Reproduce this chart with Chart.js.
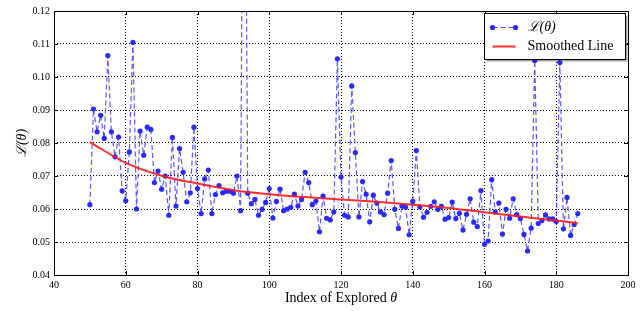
<!DOCTYPE html>
<html>
<head>
<meta charset="utf-8">
<script src="https://cdn.jsdelivr.net/npm/chart.js@4/dist/chart.umd.min.js"></script>
<style>
  html, body { margin: 0; padding: 0; background: #fff; }
  #wrap { width: 642px; height: 311px; }
</style>
</head>
<body>
<div id="wrap"><canvas id="chart" width="642" height="311"></canvas></div>
<script>
// explored index of the first loss sample, one sample per index after it
const firstIndex = 50;

const lossValues = [
  0.0613, 0.0903, 0.0834, 0.0884, 0.0814, 0.1065, 0.0834, 0.0758, 0.0818, 0.0655,
  0.0625, 0.0773, 0.1105, 0.0600, 0.0836, 0.0763, 0.0848, 0.0841, 0.0680, 0.0715,
  0.0660, 0.0700, 0.0581, 0.0817, 0.0609, 0.0783, 0.0711, 0.0622, 0.0649, 0.0848,
  0.0662, 0.0586, 0.0691, 0.0718, 0.0586, 0.0644, 0.0671, 0.0649, 0.0654, 0.0654,
  0.0648, 0.0700, 0.0595, 0.2300, 0.0648, 0.0616, 0.0629, 0.0581, 0.0599, 0.0620,
  0.0662, 0.0573, 0.0623, 0.0660, 0.0595, 0.0600, 0.0605, 0.0645, 0.0609, 0.0629,
  0.0711, 0.0680, 0.0613, 0.0624, 0.0531, 0.0639, 0.0572, 0.0567, 0.0591, 0.1055,
  0.0697, 0.0581, 0.0576, 0.0973, 0.0771, 0.0576, 0.0683, 0.0645, 0.0561, 0.0642,
  0.0618, 0.0591, 0.0583, 0.0648, 0.0747, 0.0599, 0.0541, 0.0609, 0.0605, 0.0522,
  0.0623, 0.0777, 0.0606, 0.0575, 0.0590, 0.0608, 0.0622, 0.0599, 0.0608, 0.0569,
  0.0574, 0.0621, 0.0571, 0.0587, 0.0536, 0.0584, 0.0631, 0.0560, 0.0547, 0.0656,
  0.0493, 0.0503, 0.0689, 0.0591, 0.0618, 0.0524, 0.0599, 0.0572, 0.0631, 0.0583,
  0.0571, 0.0523, 0.0473, 0.0542, 0.1050, 0.0556, 0.0565, 0.0582, 0.0570, 0.0570,
  0.0562, 0.1044, 0.0540, 0.0635, 0.0520, 0.0553, 0.0586
];

const smoothIndex = [50, 60, 70, 80, 90, 100, 110, 120, 130, 140, 150, 160, 170, 180, 186];
const smoothValues = [0.0803, 0.0740, 0.0701, 0.0677, 0.0657, 0.0645, 0.0636, 0.0629, 0.0622, 0.0613, 0.0603, 0.0590, 0.0577, 0.0565, 0.0557];

const xTickValues = [40, 60, 80, 100, 120, 140, 160, 180, 200];
const yTickValues = [0.04, 0.05, 0.06, 0.07, 0.08, 0.09, 0.10, 0.11, 0.12];

const legendLabels = ['\u2112(\u03b8)', 'Smoothed Line'];
const xTitle = ['Index of Explored ', '\u03b8'];

const serif = '"Liberation Serif", "DejaVu Serif", serif';

const lossPoints = lossValues.map((v, i) => ({ x: firstIndex + i, y: v }));
const smoothPoints = smoothIndex.map((x, i) => ({ x, y: smoothValues[i] }));

// frame, inward ticks, x title with italic theta and the boxed legend
const framePlugin = {
  id: 'frame',
  afterDraw(chart) {
    const { ctx, chartArea: a, scales } = chart;
    ctx.save();
    ctx.strokeStyle = '#000';
    ctx.lineWidth = 1;
    ctx.beginPath();
    xTickValues.forEach((v) => {
      const px = Math.round(scales.x.getPixelForValue(v)) + 0.5;
      ctx.moveTo(px, a.bottom); ctx.lineTo(px, a.bottom - 4);
      ctx.moveTo(px, a.top); ctx.lineTo(px, a.top + 4);
    });
    yTickValues.forEach((v) => {
      const py = Math.round(scales.y.getPixelForValue(v)) + 0.5;
      ctx.moveTo(a.left, py); ctx.lineTo(a.left + 4, py);
      ctx.moveTo(a.right, py); ctx.lineTo(a.right - 4, py);
    });
    ctx.stroke();
    ctx.strokeRect(Math.round(a.left) + 0.5, Math.round(a.top) + 0.5,
      Math.round(a.right - a.left), Math.round(a.bottom - a.top));

    // x axis title
    ctx.fillStyle = '#000';
    ctx.textBaseline = 'middle';
    ctx.textAlign = 'left';
    ctx.font = '14px ' + serif;
    const w0 = ctx.measureText(xTitle[0]).width;
    ctx.font = 'italic 14px ' + serif;
    const w1 = ctx.measureText(xTitle[1]).width;
    const tx = (a.left + a.right) / 2 - (w0 + w1) / 2;
    const ty = scales.x.bottom - 13;
    ctx.font = '14px ' + serif;
    ctx.fillText(xTitle[0], tx, ty);
    ctx.font = 'italic 14px ' + serif;
    ctx.fillText(xTitle[1], tx + w0, ty);

    // legend
    const w = 141, h = 46;
    const lx = Math.round(a.right - w - 3) + 0.5;
    const ly = Math.round(a.top + 2) + 0.5;
    ctx.fillStyle = 'rgba(0,0,0,0.35)';
    ctx.fillRect(lx + 2, ly + 2, w, h);
    ctx.fillStyle = '#fff';
    ctx.fillRect(lx, ly, w, h);
    ctx.strokeStyle = '#000';
    ctx.strokeRect(lx, ly, w, h);

    const blue = chart.data.datasets[1];
    const red = chart.data.datasets[0];
    const row1 = ly + 14, row2 = ly + 33;
    const s0 = lx + 8, s1 = lx + 31;

    ctx.strokeStyle = blue.borderColor;
    ctx.lineWidth = blue.borderWidth;
    ctx.setLineDash(blue.borderDash);
    ctx.beginPath(); ctx.moveTo(s0, row1); ctx.lineTo(s1, row1); ctx.stroke();
    ctx.setLineDash([]);
    ctx.fillStyle = blue.pointBackgroundColor;
    [s0, s1].forEach((px) => {
      ctx.beginPath(); ctx.arc(px, row1, blue.pointRadius, 0, Math.PI * 2); ctx.fill();
    });

    ctx.strokeStyle = red.borderColor;
    ctx.lineWidth = red.borderWidth;
    ctx.beginPath(); ctx.moveTo(s0, row2); ctx.lineTo(s1, row2); ctx.stroke();

    ctx.fillStyle = '#000';
    ctx.font = 'italic 14px ' + serif;
    ctx.fillText(legendLabels[0], lx + 43, row1);
    ctx.font = '14px ' + serif;
    ctx.fillText(legendLabels[1], lx + 43, row2);
    ctx.restore();
  }
};

const gridStyle = { color: '#000', lineWidth: 1, drawTicks: false };

new Chart(document.getElementById('chart'), {
  type: 'line',
  data: {
    datasets: [
      {
        label: legendLabels[1],
        data: smoothPoints,
        borderColor: 'rgba(255, 25, 25, 0.9)',
        borderWidth: 2,
        pointRadius: 0,
        cubicInterpolationMode: 'monotone',
        order: 0,
      },
      {
        label: legendLabels[0],
        data: lossPoints,
        borderColor: 'rgba(60, 60, 255, 0.85)',
        borderWidth: 1.2,
        borderDash: [5, 3],
        pointRadius: 2.6,
        pointBorderWidth: 0,
        pointBackgroundColor: '#2a2aff',
        tension: 0,
        order: 1,
      },
    ],
  },
  options: {
    responsive: false,
    animation: false,
    devicePixelRatio: 1,
    layout: { padding: { left: 0, right: 14, top: 11, bottom: 0 } },
    plugins: { legend: { display: false }, tooltip: { enabled: false } },
    scales: {
      x: {
        type: 'linear',
        min: 40,
        max: 200,
        afterBuildTicks: (s) => { s.ticks = xTickValues.map((value) => ({ value })); },
        afterFit: (s) => { s.height = 36; },
        grid: gridStyle,
        border: { display: false, dash: [1, 2] },
        ticks: { padding: 4, color: '#000', font: { family: serif, size: 10 }, maxRotation: 0 },
      },
      y: {
        min: 0.04,
        max: 0.12,
        afterBuildTicks: (s) => { s.ticks = yTickValues.map((value) => ({ value })); },
        afterFit: (s) => { s.width = 54; },
        grid: gridStyle,
        border: { display: false, dash: [1, 2] },
        ticks: {
          padding: 4,
          color: '#000',
          font: { family: serif, size: 10 },
          callback: (v) => v.toFixed(2),
        },
        title: {
          display: true,
          text: '\u2112(\u03b8)',
          color: '#000',
          font: { family: serif, size: 14, style: 'italic' },
          padding: { top: 14, bottom: 0 },
        },
      },
    },
  },
  plugins: [framePlugin],
});
</script>
</body>
</html>
